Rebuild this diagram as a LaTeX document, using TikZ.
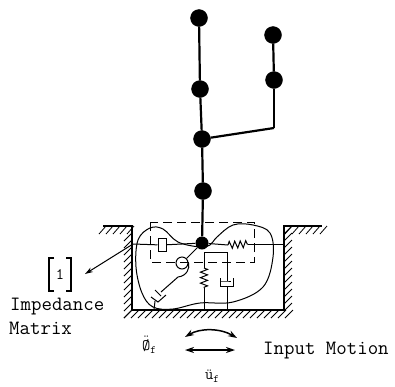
\documentclass[tikz,border=0pt]{standalone}
\usepackage{amsmath}
\usepackage{xcolor}
\usetikzlibrary{arrows.meta}
\usetikzlibrary{decorations.pathmorphing}
\tikzset{
	mass/.style={circle,fill=black,draw=black,inner sep=0pt,minimum size=17pt},
	joint/.style={circle,fill=black,inner sep=0pt,minimum size=13pt},
	stick/.style={line width=2.2pt},
	thin line/.style={line width=1pt},
	wall/.style={line width=2.2pt},
	hatch/.style={line width=0.8pt},
	zig/.style={line width=1pt,decorate,decoration={zigzag,amplitude=3.5pt,segment length=5.5pt}},
	label text/.style={font=\fontsize{20.3}{21}\selectfont\ttfamily,inner sep=0pt,anchor=west},
	small text/.style={font=\fontsize{16}{17}\selectfont\ttfamily,inner sep=0pt}
}
\begin{document}
\begin{tikzpicture}[x=1pt,y=-1pt]
	\useasboundingbox (0,0) rectangle (395,386);
	\begin{scope}[every node/.style={mass}]
		\node (A) at (199,18) {};
		\node (B) at (200,89) {};
		\node (C) at (202,139) {};
		\node (D) at (203,191) {};
		\node (E) at (273,35) {};
		\node (F) at (274,80) {};
	\end{scope}
	\node[joint] (G) at (202,243) {};
	\coordinate (H) at (274,128);
	
	\draw[stick] (A) -- (B);
	\draw[stick] (B) -- (C);
	\draw[stick] (C) -- (D);
	\draw[stick] (D) -- (G);
	\draw[stick] (E) -- (F);
	\draw[stick] (F) -- (H);
	\draw[stick] (H) -- (C);
	
	% pit
	\coordinate (W1) at (103,226);
	\coordinate (W2) at (132,226);
	\coordinate (W3) at (132,310);
	\coordinate (W4) at (284,310);
	\coordinate (W5) at (284,226);
	\coordinate (W6) at (322,226);
	\draw[wall] (W1) -- (W2) -- (W3) -- (W4) -- (W5) -- (W6);
	\foreach \x in {106,113,...,134}
		\draw[hatch] (\x,226) -- ++(-7,8);
	\foreach \x in {292,299,...,327}
		\draw[hatch] (\x,226) -- ++(-7,8);
	\foreach \y in {233,240,...,310}
		\draw[hatch] (132,\y) -- ++(-8,8);
	\foreach \y in {226,233,...,303}
		\draw[hatch] (292,\y) -- ++(-8,8);
	\foreach \x in {132,139,...,295}
		\draw[hatch] (\x,310) -- ++(-8,8);
	
	% soil springs
	\draw[line width=0.9pt,dash pattern=on 9pt off 5pt] (150,222) rectangle (254,262);
	\coordinate (I) at (133,244);
	\coordinate (J) at (283,244);
	\node[draw,line width=1pt,fill=white,minimum width=8pt,minimum height=13pt,inner sep=0pt] (K) at (162,245) {};
	\draw[thin line] (I) -- (K);
	\draw[thin line] (K) -- (G);
	\coordinate (L) at (228,245);
	\coordinate (M) at (248,244);
	\draw[thin line] (G) -- (L);
	\draw[zig] (L) -- (M);
	\draw[thin line] (M) -- (J);
	
	\coordinate (N) at (204,252);
	\coordinate (O) at (204,268);
	\coordinate (P) at (204,288);
	\coordinate (Q) at (204,310);
	\draw[thin line] (N) -- (O);
	\draw[zig] (O) -- (P);
	\draw[thin line] (P) -- (Q);
	
	\coordinate (R) at (227,254);
	\coordinate (S) at (227,281);
	\coordinate (T) at (227,286);
	\coordinate (U) at (227,310);
	\draw[thin line] (N) -- (R |- N) -- (S);
	\draw[thin line] (220,278) -- (220,286) -- (233,286) -- (233,278);
	\draw[thin line] (221,281) -- (S) -- (231,281);
	\draw[thin line] (T) -- (U);
	
	% rotation spring
	\node[draw,circle,line width=1pt,minimum size=12pt,inner sep=0pt] (V) at (182,263) {};
	\draw[thin line] (G) -- (V);
	\draw[thin line] (V.east) .. controls (190,268) and (187,276) .. (178,277) -- (161,292);
	\draw[thin line] (166,295) -- (158,302) -- (151,297);
	\draw[thin line] (155,290) -- (161,296);
	\draw[thin line] (155,301) -- (154,310);
	
	% boundary
	\draw[line width=1pt] plot[smooth cycle,tension=0.6] coordinates {
		(200,247) (178,242) (163,229) (150,228) (138,240) (136,267) (142,293)
		(153,307) (173,309) (200,303) (233,302) (263,287) (273,257) (270,233)
		(253,225) (233,225) (217,237) (210,245)};
	
	% arrow to matrix
	\node[font=\fontsize{16}{17}\selectfont\ttfamily,inner sep=0pt] (X) at (60,275) {1};
	\draw[line width=1.8pt] (54,258) -- (49,258) -- (49,291) -- (54,291);
	\draw[line width=1.8pt] (66,258) -- (71,258) -- (71,291) -- (66,291);
	\coordinate (Y) at (85,274);
	\draw[-{Stealth[length=8pt,width=5pt]},line width=1pt] (I) -- (Y);
	
	\node[label text] (Z1) at (10,307) {Impedance};
	\node[label text] (Z2) at (9,328) {Matrix};
	\node[label text] (Z3) at (263,351) {Input Motion};
	\node[small text] (Z4) at (149,346) {\ooalign{\O\cr\raisebox{5pt}{\"{}}\cr}\raisebox{-3pt}{\fontsize{11}{12}\selectfont f}};
	\node[small text] (Z5) at (212,376) {\"u\raisebox{-3pt}{\fontsize{11}{12}\selectfont f}};
	
	% input motion
	\coordinate (A1) at (185,337);
	\coordinate (A2) at (237,338);
	\coordinate (A3) at (185,350);
	\coordinate (A4) at (235,350);
	\draw[{Stealth[length=9pt,width=6pt]}-{Stealth[length=9pt,width=6pt]},line width=1.5pt] (A1) .. controls (200,328) and (220,328) .. (A2);
	\draw[{Stealth[length=9pt,width=6pt]}-{Stealth[length=9pt,width=6pt]},line width=1.5pt] (A3) -- (A4);
\end{tikzpicture}
\end{document}
